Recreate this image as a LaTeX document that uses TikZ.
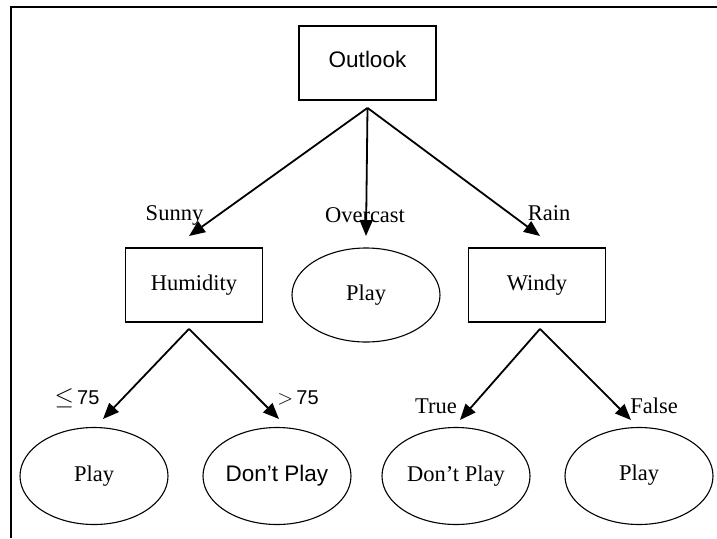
\documentclass[tikz,border=0pt]{standalone}
\usepackage{fontspec}
\setmainfont{Liberation Serif}
\setsansfont{Liberation Sans}
\usetikzlibrary{shapes.geometric,arrows.meta}

\begin{document}
\fontsize{22.5}{27}\selectfont
\begin{tikzpicture}[
  x=1pt,y=-1pt,
  >={Triangle[length=16pt,width=13pt]},
  test/.style={draw,line width=1.8pt,minimum width=137pt,minimum height=74pt,inner sep=0pt},
  leaf/.style={draw,ellipse,line width=1.1pt,minimum width=148pt,minimum height=97pt,inner sep=0pt},
  edge/.style={->,line width=1.8pt},
  cond/.style={inner sep=0pt},
  num/.style={inner sep=0pt,font=\fontsize{20}{24}\selectfont}
]
\useasboundingbox (0,0) rectangle (717,538);
\draw[line width=2pt] (11,538) -- (11,7) -- (717,7);

% decision nodes
\node[test,font=\sffamily,text depth=8pt] (outlook) at (367.5,63) {Outlook};
\node[test,text depth=4pt] (humidity) at (194,285) {Humidity};
\node[test,text depth=4pt] (windy) at (537,285) {Windy};
\node[leaf,minimum height=94pt] (overplay) at (366,295) {Play};

% leaves
\node[leaf] (lowplay) at (94,476) {Play};
\node[leaf,font=\sffamily] (highdont) at (277,476) {Don't Play};
\node[leaf] (truedont) at (456,476) {Don't Play};
\node[leaf,text depth=6pt] (falseplay) at (639,476) {Play};

% branch ends
\coordinate (o-out) at ([yshift=-7pt]outlook.south);
\coordinate (h-out) at ([xshift=-5pt,yshift=-6pt]humidity.south);
\coordinate (w-out) at ([xshift=3pt,yshift=-6pt]windy.south);
\coordinate (sunny-in) at (189,236);
\coordinate (over-in) at (366,236);
\coordinate (rain-in) at (540,236);
\coordinate (le-in) at (103,419);
\coordinate (gt-in) at (279,419);
\coordinate (true-in) at (460,420);
\coordinate (false-in) at (631,420);

\draw[edge] (o-out) -- (sunny-in);
\draw[edge] (o-out) -- (over-in);
\draw[edge] (o-out) -- (rain-in);
\draw[edge] (h-out) -- (le-in);
\draw[edge] (h-out) -- (gt-in);
\draw[edge] (w-out) -- (true-in);
\draw[edge] (w-out) -- (false-in);

% branch labels
\node[cond] (sunny) at (174.5,215) {Sunny};
\node[cond] (overcast) at (365,215) {Overcast};
\node[cond] (rain) at (549,213) {Rain};
\node[num] (le75) at (77,398) {{\fontsize{27}{30}\selectfont$\leq$}\,{\sffamily 75}};
\node[num] (gt75) at (298,398) {$>$\,{\sffamily 75}};
\node[cond] (true) at (436,406) {True};
\node[cond] (false) at (654,406) {False};
\end{tikzpicture}
\end{document}
